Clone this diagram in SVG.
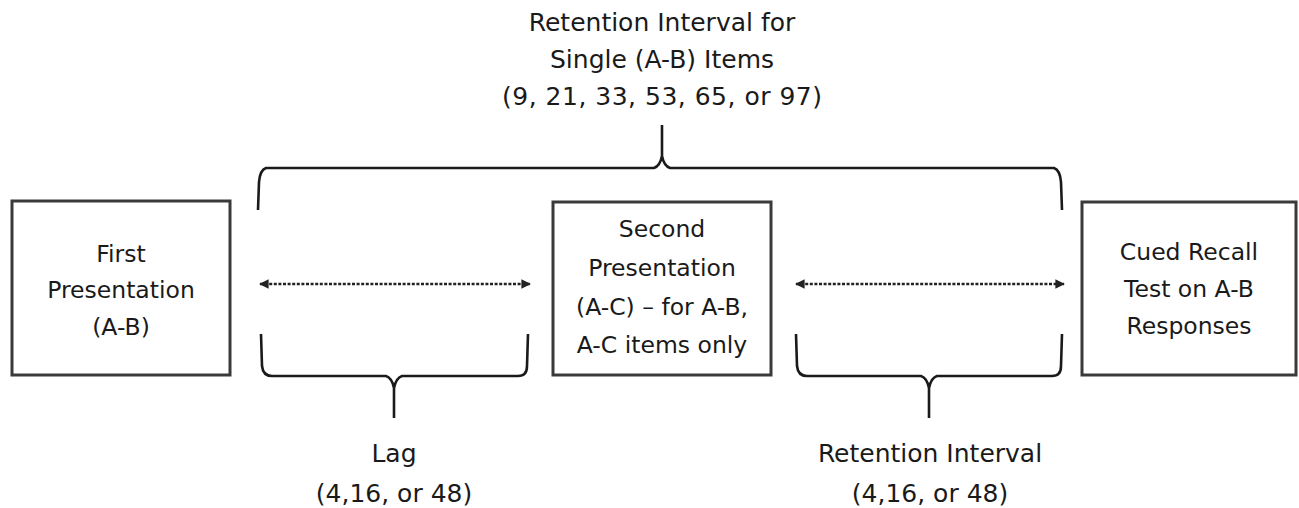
<svg xmlns="http://www.w3.org/2000/svg" width="1299" height="508" viewBox="0 0 1299 508">
<defs>
<style>
.box{fill:#fff;stroke:#3a3a3a;stroke-width:3}
.t{font-family:"DejaVu Sans",sans-serif;font-size:23.5px;fill:#1a1a1a;text-anchor:middle}
.l{font-size:25px}
.br{fill:none;stroke:#1a1a1a;stroke-width:2.6;stroke-linejoin:round}
.dot{fill:none;stroke:#222;stroke-width:2.4;stroke-dasharray:3 1.6}
</style>
<marker id="ah" viewBox="0 0 10 10" refX="9" refY="5" markerWidth="4" markerHeight="4" orient="auto-start-reverse" markerUnits="strokeWidth">
<path d="M0,0 L10,5 L0,10 z" fill="#222"/>
</marker>
</defs>
<rect width="1299" height="508" fill="#fff"/>
<g id="top-label">
<text class="t l" x="662" y="31">Retention Interval for</text>
<text class="t l" x="662" y="68">Single (A-B) Items</text>
<text class="t l" x="662" y="105" textLength="320" lengthAdjust="spacing">(9, 21, 33, 53, 65, or 97)</text>
</g>
<g id="first-presentation">
<rect class="box" x="12" y="201" width="218" height="174"/>
<text class="t" x="121" y="262">First</text>
<text class="t" x="121" y="298">Presentation</text>
<text class="t" x="121" y="335">(A-B)</text>
</g>
<g id="second-presentation">
<rect class="box" x="553" y="202" width="218" height="173"/>
<text class="t" x="662" y="237">Second</text>
<text class="t" x="662" y="276">Presentation</text>
<text class="t" x="662" y="315">(A-C) – for A-B,</text>
<text class="t" x="662" y="353">A-C items only</text>
</g>
<g id="cued-recall">
<rect class="box" x="1082" y="202" width="214" height="173"/>
<text class="t" x="1189" y="260">Cued Recall</text>
<text class="t" x="1189" y="297">Test on A-B</text>
<text class="t" x="1189" y="334">Responses</text>
</g>
<g id="connectors">
<path class="br" d="M258,210 L259,182 Q260,170 266,168 L654,168 Q660,166 662,156 L662,125 M662,156 Q664,166 670,168 L1054,168 Q1060,170 1061,182 L1062,210"/>
<path class="br" d="M261,334 L262,366 Q263,376 272,376 L386,376 Q392,378 394,388 L394,418 M394,388 Q396,378 402,376 L518,376 Q527,376 527,366 L528,334"/>
<path class="br" d="M796,334 L797,366 Q798,376 807,376 L921,376 Q927,378 929,388 L929,418 M929,388 Q931,378 937,376 L1052,376 Q1061,376 1061,366 L1062,334"/>
<line class="dot" x1="260" y1="284" x2="530" y2="284" marker-start="url(#ah)" marker-end="url(#ah)"/>
<line class="dot" x1="796" y1="284" x2="1064" y2="284" marker-start="url(#ah)" marker-end="url(#ah)"/>
</g>
<g id="lag-label">
<text class="t l" x="394" y="462">Lag</text>
<text class="t l" x="394" y="502">(4,16, or 48)</text>
</g>
<g id="retention-label">
<text class="t l" x="930" y="462">Retention Interval</text>
<text class="t l" x="930" y="502">(4,16, or 48)</text>
</g>
</svg>
